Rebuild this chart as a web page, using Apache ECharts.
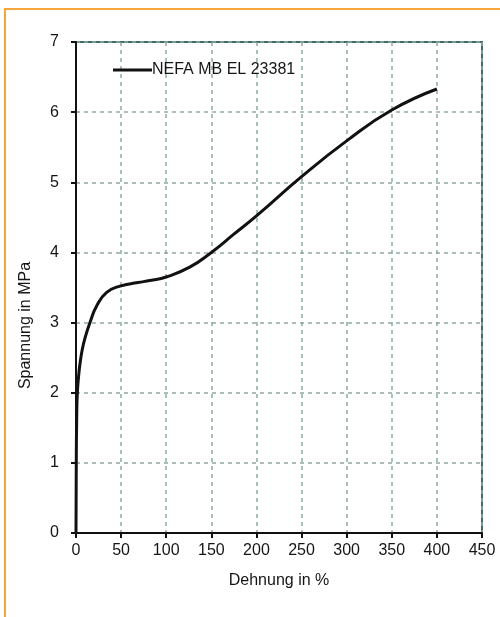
<!DOCTYPE html>
<html><head><meta charset="utf-8">
<script src="https://cdn.jsdelivr.net/npm/echarts@6/dist/echarts.min.js"></script>
<style>html,body{margin:0;padding:0;background:#fff}#c{width:500px;height:617px}</style>
</head><body><div id="c"></div>
<script>
const seriesName = 'NEFA MB EL 23381';
const strain = [0, 0.3, 0.8, 1.5, 3, 4.4, 7, 10, 15.5, 23, 34, 48.8, 68.7, 82, 100, 126, 150, 175, 200, 250, 300, 350, 400];
const stress = [0, 1.0, 1.66, 2.0, 2.25, 2.41, 2.62, 2.78, 3.0, 3.24, 3.43, 3.52, 3.57, 3.6, 3.65, 3.79, 4.0, 4.26, 4.52, 5.08, 5.59, 6.03, 6.33];
const xTicks = [0, 450, 50];
const yTicks = [0, 7, 1];

const chart = echarts.init(document.getElementById('c'), null, {renderer: 'canvas'});
const font = '"Liberation Sans", Arial, sans-serif';
const txt = '#151515';
chart.setOption({
  animation: false,
  graphic: [{type: 'rect', shape: {x: 5, y: 9, width: 600, height: 700}, style: {fill: 'none', stroke: '#f7a43a', lineWidth: 2}, z: -1}],
  grid: {left: 76, right: 18, top: 42, bottom: 84, show: true, borderColor: '#3e6b67', borderWidth: 2},
  legend: {left: 113, top: 62, padding: 0, icon: 'rect', itemWidth: 39, itemHeight: 3, itemGap: 0,
    textStyle: {fontFamily: font, fontSize: 16, color: txt, padding: [0,0,0,-5]},
    data: [seriesName]},
  xAxis: {type: 'value', min: xTicks[0], max: xTicks[1], interval: xTicks[2],
    name: 'Dehnung in %', nameLocation: 'middle', nameGap: 40,
    nameTextStyle: {fontFamily: font, fontSize: 16, color: txt},
    axisLine: {show: true, lineStyle: {color: '#111', width: 2}},
    axisTick: {show: true, length: 5, lineStyle: {color: '#111', width: 2}},
    axisLabel: {fontFamily: font, fontSize: 16, color: txt, margin: 10},
    splitLine: {show: true, lineStyle: {color: '#8fa9a6', type: [4, 4], width: 1.5}}},
  yAxis: {type: 'value', min: yTicks[0], max: yTicks[1], interval: yTicks[2],
    name: 'Spannung in MPa', nameLocation: 'middle', nameGap: 42, nameRotate: 90,
    nameTextStyle: {fontFamily: font, fontSize: 16, color: txt, padding: [0, 76, 0, 0]},
    axisLine: {show: true, lineStyle: {color: '#111', width: 2}},
    axisTick: {show: true, length: 5, lineStyle: {color: '#111', width: 2}},
    axisLabel: {fontFamily: font, fontSize: 16, color: txt, margin: 17},
    splitLine: {show: true, lineStyle: {color: '#8fa9a6', type: [4, 4], width: 1.5}}},
  series: [{name: seriesName, type: 'line', smooth: 0.5, showSymbol: false,
    lineStyle: {color: '#111', width: 3}, itemStyle: {color: '#111'},
    data: strain.map((x, i) => [x, stress[i]])}]
});
</script></body></html>
